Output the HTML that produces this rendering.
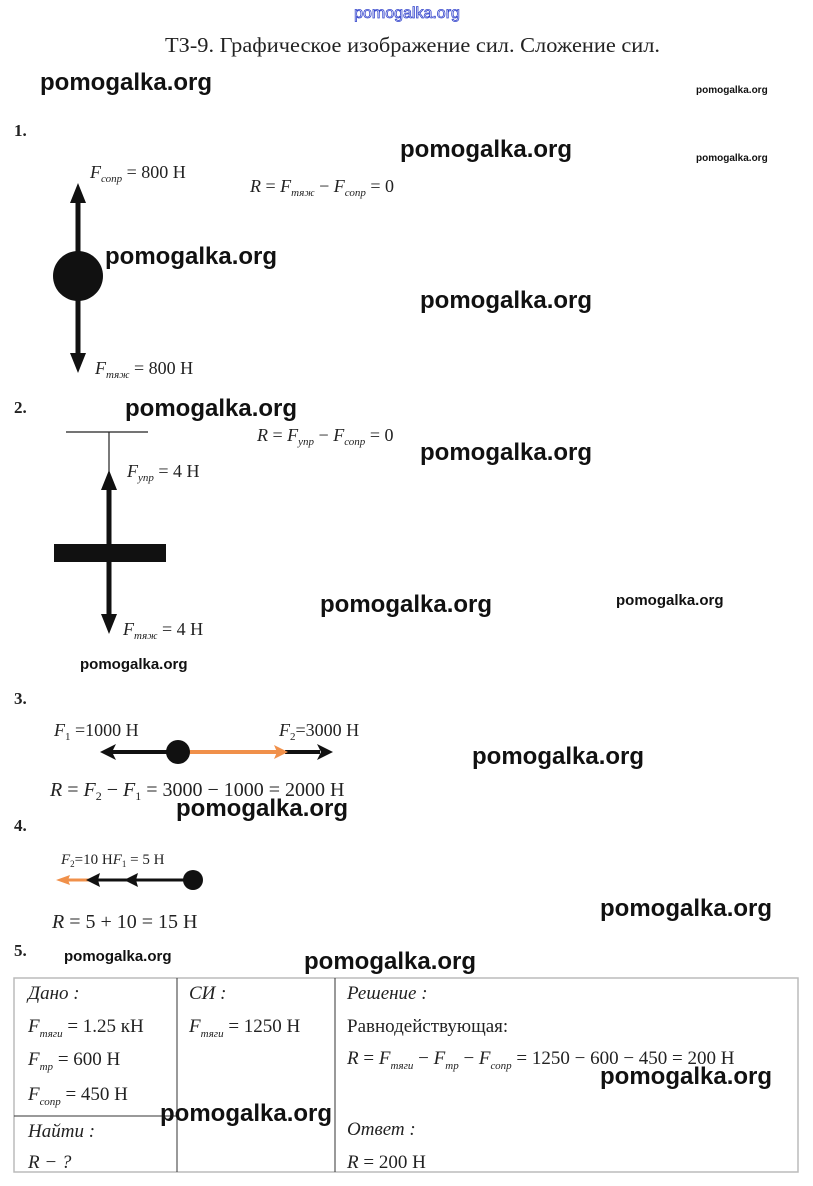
<!DOCTYPE html>
<html><head><meta charset="utf-8"><style>
html,body{margin:0;padding:0;background:#fff;width:813px;height:1186px;overflow:hidden}
svg{display:block}
.s{font-family:"Liberation Serif",serif;fill:#222}
.i{font-style:italic}
.w{font-family:"Liberation Sans",sans-serif;fill:#111;font-weight:bold}
</style></head><body>
<svg width="813" height="1186" viewBox="0 0 813 1186" xmlns="http://www.w3.org/2000/svg">
<text x="407" y="18" text-anchor="middle" font-family="Liberation Sans,sans-serif" font-size="16" fill="none" stroke="#3344cc" stroke-width="0.8">pomogalka.org</text>
<text x="165" y="52" class="s" font-size="21" textLength="495" lengthAdjust="spacingAndGlyphs">ТЗ-9. Графическое изображение сил. Сложение сил.</text>

<text x="14" y="136" class="s" font-size="17" font-weight="bold">1.</text>
<line x1="78" y1="198" x2="78" y2="360" stroke="#111" stroke-width="5"/>
<path d="M78,183 L70,203 L86,203 z" fill="#111"/>
<path d="M78,373 L70,353 L86,353 z" fill="#111"/>
<circle cx="78" cy="276" r="25" fill="#111"/>
<text x="90" y="178" class="s" font-size="18"><tspan class="i">F</tspan><tspan class="i" font-size="11" dy="4">сопр</tspan><tspan dy="-4"> = 800 Н</tspan></text>
<text x="250" y="192" class="s" font-size="18"><tspan class="i">R</tspan> = <tspan class="i">F</tspan><tspan class="i" font-size="11" dy="4">тяж</tspan><tspan dy="-4"> − </tspan><tspan class="i">F</tspan><tspan class="i" font-size="11" dy="4">сопр</tspan><tspan dy="-4"> = 0</tspan></text>
<text x="95" y="374" class="s" font-size="18"><tspan class="i">F</tspan><tspan class="i" font-size="11" dy="4">тяж</tspan><tspan dy="-4"> = 800 Н</tspan></text>

<text x="14" y="413" class="s" font-size="17" font-weight="bold">2.</text>
<line x1="66" y1="432" x2="148" y2="432" stroke="#222" stroke-width="1.2"/>
<line x1="109" y1="432" x2="109" y2="480" stroke="#222" stroke-width="1.2"/>
<line x1="109" y1="485" x2="109" y2="545" stroke="#111" stroke-width="5"/>
<path d="M109,470 L101,490 L117,490 z" fill="#111"/>
<rect x="54" y="544" width="112" height="18" fill="#111"/>
<line x1="109" y1="562" x2="109" y2="620" stroke="#111" stroke-width="5"/>
<path d="M109,634 L101,614 L117,614 z" fill="#111"/>
<text x="127" y="477" class="s" font-size="18"><tspan class="i">F</tspan><tspan class="i" font-size="11" dy="4">упр</tspan><tspan dy="-4"> = 4 Н</tspan></text>
<text x="257" y="441" class="s" font-size="18"><tspan class="i">R</tspan> = <tspan class="i">F</tspan><tspan class="i" font-size="11" dy="4">упр</tspan><tspan dy="-4"> − </tspan><tspan class="i">F</tspan><tspan class="i" font-size="11" dy="4">сопр</tspan><tspan dy="-4"> = 0</tspan></text>
<text x="123" y="635" class="s" font-size="18"><tspan class="i">F</tspan><tspan class="i" font-size="11" dy="4">тяж</tspan><tspan dy="-4"> = 4 Н</tspan></text>

<text x="14" y="704" class="s" font-size="17" font-weight="bold">3.</text>
<line x1="112" y1="752" x2="178" y2="752" stroke="#111" stroke-width="4"/>
<path d="M100,752 L116,744 L112,752 L116,760 z" fill="#111"/>
<line x1="285" y1="752" x2="320" y2="752" stroke="#111" stroke-width="4"/>
<path d="M333,752 L317,744 L321,752 L317,760 z" fill="#111"/>
<line x1="178" y1="752" x2="278" y2="752" stroke="#f0904a" stroke-width="4"/>
<path d="M288,752 L274,745 L277,752 L274,759 z" fill="#f0904a"/>
<circle cx="178" cy="752" r="12" fill="#111"/>
<text x="54" y="736" class="s" font-size="18"><tspan class="i">F</tspan><tspan font-size="11" dy="4">1</tspan><tspan dy="-4"> =1000 Н</tspan></text>
<text x="279" y="736" class="s" font-size="18"><tspan class="i">F</tspan><tspan font-size="11" dy="4">2</tspan><tspan dy="-4">=3000 Н</tspan></text>
<text x="50" y="796" class="s" font-size="20"><tspan class="i">R</tspan> = <tspan class="i">F</tspan><tspan font-size="12" dy="4">2</tspan><tspan dy="-4"> − </tspan><tspan class="i">F</tspan><tspan font-size="12" dy="4">1</tspan><tspan dy="-4"> = 3000 − 1000 = 2000 Н</tspan></text>

<text x="14" y="831" class="s" font-size="17" font-weight="bold">4.</text>
<line x1="66" y1="880" x2="95" y2="880" stroke="#f0904a" stroke-width="3"/>
<path d="M56,880 L70,875 L68,880 L70,885 z" fill="#f0904a"/>
<line x1="95" y1="880" x2="193" y2="880" stroke="#111" stroke-width="3"/>
<path d="M86,880 L100,873 L98,880 L100,887 z" fill="#111"/>
<path d="M124,880 L138,873 L136,880 L138,887 z" fill="#111"/>
<circle cx="193" cy="880" r="10" fill="#111"/>
<text x="61" y="864" class="s" font-size="15"><tspan class="i">F</tspan><tspan font-size="9" dy="3">2</tspan><tspan dy="-3">=10 Н</tspan><tspan class="i">F</tspan><tspan font-size="9" dy="3">1</tspan><tspan dy="-3"> = 5 Н</tspan></text>
<text x="52" y="928" class="s" font-size="20"><tspan class="i">R</tspan> = 5 + 10 = 15 Н</text>

<text x="14" y="956" class="s" font-size="17" font-weight="bold">5.</text>
<rect x="14" y="978" width="784" height="194" fill="none" stroke="#bbb" stroke-width="1.5"/>
<line x1="177" y1="978" x2="177" y2="1172" stroke="#333" stroke-width="1"/>
<line x1="335" y1="978" x2="335" y2="1172" stroke="#333" stroke-width="1"/>
<line x1="14" y1="1116" x2="177" y2="1116" stroke="#333" stroke-width="1"/>
<g class="s" font-size="19">
<text x="28" y="999" class="i">Дано :</text>
<text x="28" y="1032"><tspan class="i">F</tspan><tspan class="i" font-size="11" dy="5">тяги</tspan><tspan dy="-5"> = 1.25 кН</tspan></text>
<text x="28" y="1065"><tspan class="i">F</tspan><tspan class="i" font-size="11" dy="5">тр</tspan><tspan dy="-5">  = 600 Н</tspan></text>
<text x="28" y="1100"><tspan class="i">F</tspan><tspan class="i" font-size="11" dy="5">сопр</tspan><tspan dy="-5"> = 450 Н</tspan></text>
<text x="28" y="1137" class="i">Найти :</text>
<text x="28" y="1168" class="i">R − ?</text>
<text x="189" y="999" class="i">СИ :</text>
<text x="189" y="1032"><tspan class="i">F</tspan><tspan class="i" font-size="11" dy="5">тяги</tspan><tspan dy="-5"> = 1250 Н</tspan></text>
<text x="347" y="999" class="i">Решение :</text>
<text x="347" y="1032">Равнодействующая:</text>
<text x="347" y="1064"><tspan class="i">R</tspan> = <tspan class="i">F</tspan><tspan class="i" font-size="11" dy="5">тяги</tspan><tspan dy="-5"> − </tspan><tspan class="i">F</tspan><tspan class="i" font-size="11" dy="5">тр</tspan><tspan dy="-5"> − </tspan><tspan class="i">F</tspan><tspan class="i" font-size="11" dy="5">сопр</tspan><tspan dy="-5"> = 1250 − 600 − 450 = 200 Н</tspan></text>
<text x="347" y="1135" class="i">Ответ :</text>
<text x="347" y="1168"><tspan class="i">R</tspan> = 200 Н</text>
</g>

<g class="w" font-size="24">
<text x="40" y="90">pomogalka.org</text>
<text x="400" y="157">pomogalka.org</text>
<text x="105" y="264">pomogalka.org</text>
<text x="420" y="308">pomogalka.org</text>
<text x="125" y="416">pomogalka.org</text>
<text x="420" y="460">pomogalka.org</text>
<text x="320" y="612">pomogalka.org</text>
<text x="472" y="764">pomogalka.org</text>
<text x="176" y="816">pomogalka.org</text>
<text x="600" y="916">pomogalka.org</text>
<text x="304" y="969">pomogalka.org</text>
<text x="600" y="1084">pomogalka.org</text>
<text x="160" y="1121">pomogalka.org</text>
</g>
<g class="w" font-size="10">
<text x="696" y="93">pomogalka.org</text>
<text x="696" y="161">pomogalka.org</text>
</g>
<g class="w" font-size="15">
<text x="616" y="605">pomogalka.org</text>
<text x="80" y="669">pomogalka.org</text>
<text x="64" y="961">pomogalka.org</text>
</g>
</svg>
</body></html>
